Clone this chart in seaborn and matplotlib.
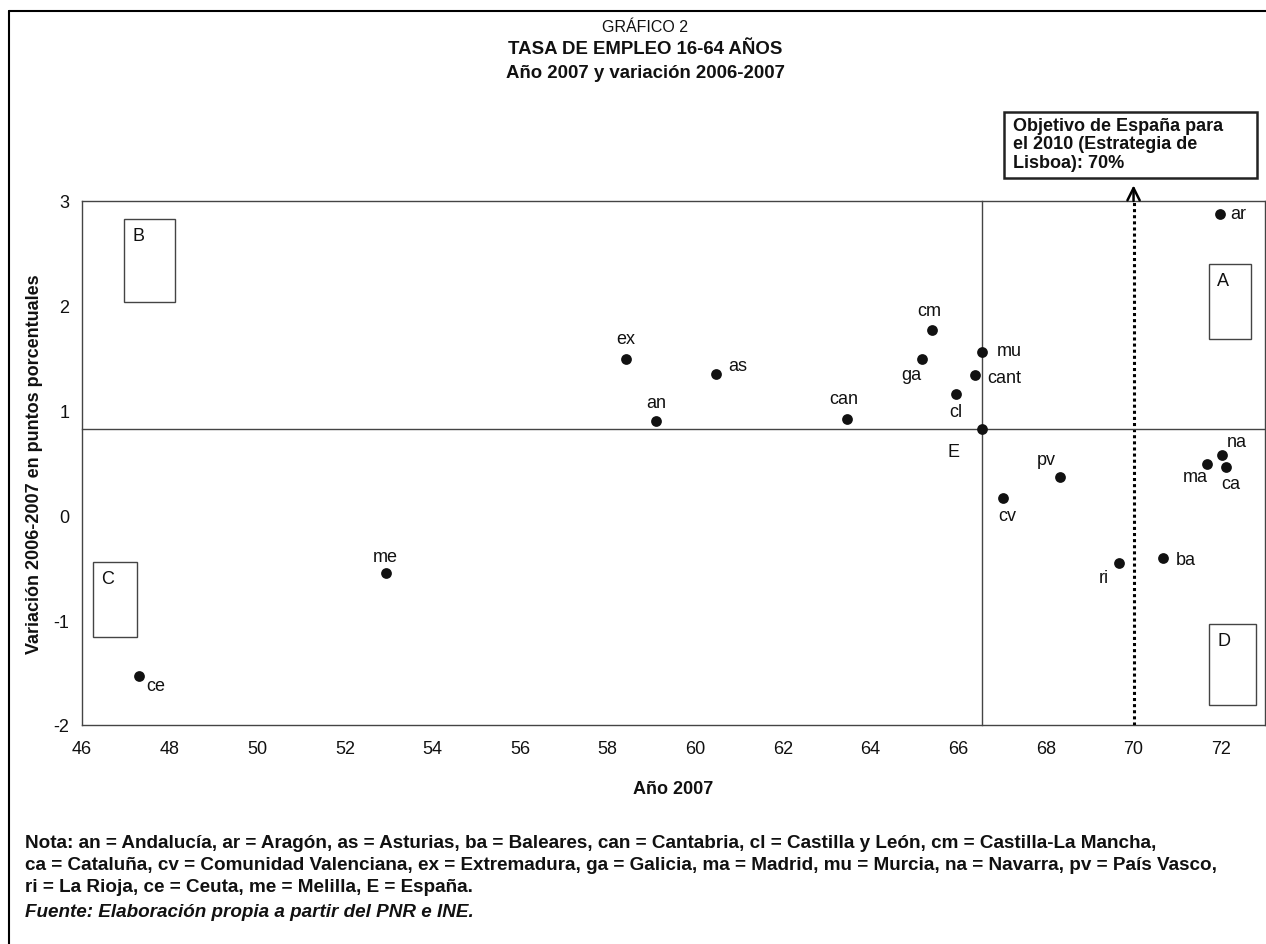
import matplotlib
matplotlib.use("Agg")
import matplotlib.pyplot as plt
import seaborn as sns
import pandas as pd
from matplotlib.patches import Rectangle
from matplotlib.lines import Line2D

# Data
regions = ["ex", "an", "as", "can", "ga", "cm", "cl", "cant", "mu", "E",
           "cv", "pv", "ri", "ba", "ma", "na", "ca", "ar", "me", "ce"]
rate_2007 = [58.42, 59.09, 60.48, 63.46, 65.18, 65.41, 65.94, 66.38, 66.55, 66.55,
             67.02, 68.31, 69.67, 70.68, 71.67, 72.01, 72.10, 71.98, 52.93, 47.31]
change_06_07 = [1.49, 0.90, 1.35, 0.92, 1.49, 1.77, 1.16, 1.34, 1.56, 0.82,
                0.17, 0.37, -0.45, -0.41, 0.49, 0.58, 0.46, 2.88, -0.55, -1.53]
# label offsets in pixels (dx, dy) relative to the point
label_offsets = [(0, 21), (1, 19), (21, 8), (-3, 20), (-11, -15), (-3, 19), (0, -18),
                 (29, -3), (27, 1), (-29, -22), (4, -18), (-13, 17), (-15, -15),
                 (22, -1), (-11, -12), (15, 13), (5, -16), (18, 0), (0, 17), (16, -10)]

target = 70
x_ticks = list(range(46, 73, 2))
y_ticks = [-2, -1, 0, 1, 2, 3]

# quadrant boxes: letter, x0, x1, y0, y1
quadrants = [("B", 46.96, 48.13, 2.04, 2.83),
             ("C", 46.26, 47.26, -1.16, -0.44),
             ("A", 71.73, 72.67, 1.68, 2.40),
             ("D", 71.73, 72.79, -1.81, -1.04)]

nota = ["Nota: an = Andalucía, ar = Aragón, as = Asturias, ba = Baleares, can = Cantabria, cl = Castilla y León, cm = Castilla-La Mancha,",
        "ca = Cataluña, cv = Comunidad Valenciana, ex = Extremadura, ga = Galicia, ma = Madrid, mu = Murcia, na = Navarra, pv = País Vasco,",
        "ri = La Rioja, ce = Ceuta, me = Melilla, E = España."]
fuente = "Fuente: Elaboración propia a partir del PNR e INE."

df = pd.DataFrame({"region": regions, "rate": rate_2007, "change": change_06_07})
e_row = df[df["region"] == "E"].iloc[0]

sns.set_style("white")
plt.rcParams["font.family"] = ["Liberation Sans", "DejaVu Sans"]
plt.rcParams["axes.unicode_minus"] = False
plt.rcParams["text.color"] = "#111111"
plt.rcParams["axes.labelcolor"] = "#111111"

W, H = 1266, 945
fig = plt.figure(figsize=(W / 100, H / 100), dpi=100)
pos = [82 / W, 1 - 726 / H, (1265 - 82) / W, (726 - 202) / H]

# frame axes with tick labels at the edges
ax = fig.add_axes(pos)
ax.set_xlim(46, 73)
ax.set_ylim(-2, 3)
ax.set_xticks(x_ticks)
ax.set_yticks(y_ticks)
ax.tick_params(length=0, labelsize=13, labelcolor="#111111")
ax.tick_params(axis="x", pad=11)
ax.tick_params(axis="y", pad=9)
for s in ax.spines.values():
    s.set_color("#444444")
    s.set_linewidth(1.0)
ax.set_xlabel("Año 2007", fontsize=13, fontweight="bold")
ax.set_ylabel("Variación 2006-2007 en puntos porcentuales", fontsize=13, fontweight="bold")
ax.xaxis.set_label_coords(0.5, -0.105)
ax.yaxis.set_label_coords(-0.040, 0.5)
ax.yaxis.label.set_va("center")

# overlay axes: axes crossing at Spain's values
ax2 = fig.add_axes(pos, sharex=ax, sharey=ax)
ax2.patch.set_visible(False)
ax2.spines["top"].set_visible(False)
ax2.spines["right"].set_visible(False)
ax2.spines["left"].set_position(("data", e_row["rate"]))
ax2.spines["bottom"].set_position(("data", e_row["change"]))
for side in ["left", "bottom"]:
    ax2.spines[side].set_color("#444444")
    ax2.spines[side].set_linewidth(1.0)
ax2.tick_params(length=4, width=1, color="#444444", direction="out",
                labelleft=False, labelbottom=False)

ax2.axvline(target, color="black", linestyle=(0, (1, 1)), linewidth=2.2, zorder=2)

sns.scatterplot(data=df, x="rate", y="change", color="#111111", s=60,
                linewidth=0, ax=ax2, zorder=4, legend=False)
ax2.set_xlabel("")
ax2.set_ylabel("")

for name, x, y, (dx, dy) in zip(regions, rate_2007, change_06_07, label_offsets):
    ax2.annotate(name, xy=(x, y), xytext=(dx, dy), textcoords="offset pixels",
                 ha="center", va="center", fontsize=13, color="#111111")

for letter, x0, x1, y0, y1 in quadrants:
    ax2.add_patch(Rectangle((x0, y0), x1 - x0, y1 - y0, fill=False,
                            edgecolor="#444444", linewidth=1.0))
    ax2.annotate(letter, xy=(x0, y1), xytext=(8, -8), textcoords="offset pixels",
                 ha="left", va="top", fontsize=13, color="#111111")

# arrow pointing to the target box
ax2.annotate("", xy=(target, 3.15), xytext=(target, 3.0),
             arrowprops=dict(arrowstyle="->", color="black", lw=1.8,
                             shrinkA=0, shrinkB=0, mutation_scale=22),
             annotation_clip=False)

# target text box
fig.patches.append(Rectangle((1004 / W, 1 - 179 / H), (1257 - 1004) / W, (179 - 113) / H,
                             transform=fig.transFigure, fill=False,
                             edgecolor="#222222", linewidth=1.8))
fig.text(1013 / W, 1 - 118 / H, "Objetivo de España para\nel 2010 (Estrategia de\nLisboa): 70%",
         ha="left", va="top", fontsize=13, fontweight="bold", linespacing=1.1)

# titles
fig.text(645 / W, 1 - 27 / H, "GRÁFICO 2", ha="center", va="center", fontsize=11.5)
fig.text(645 / W, 1 - 50 / H, "TASA DE EMPLEO 16-64 AÑOS", ha="center", va="center",
         fontsize=13.4, fontweight="bold")
fig.text(645 / W, 1 - 73 / H, "Año 2007 y variación 2006-2007", ha="center", va="center",
         fontsize=13.4, fontweight="bold")

# notes
for i, line in enumerate(nota):
    fig.text(25 / W, 1 - (843 + 22.5 * i) / H, line, ha="left", va="center",
             fontsize=13.6, fontweight="bold")
fig.text(25 / W, 1 - 913 / H, fuente, ha="left", va="center", fontsize=13.6,
         fontweight="bold", style="italic")

# outer border (left and top)
fig.lines.append(Line2D([9 / W, 9 / W], [0, 1 - 12 / H], transform=fig.transFigure,
                        color="black", linewidth=1.5))
fig.lines.append(Line2D([9 / W, 1], [1 - 12 / H, 1 - 12 / H], transform=fig.transFigure,
                        color="black", linewidth=1.5))

fig.savefig("out.png", dpi=100)
